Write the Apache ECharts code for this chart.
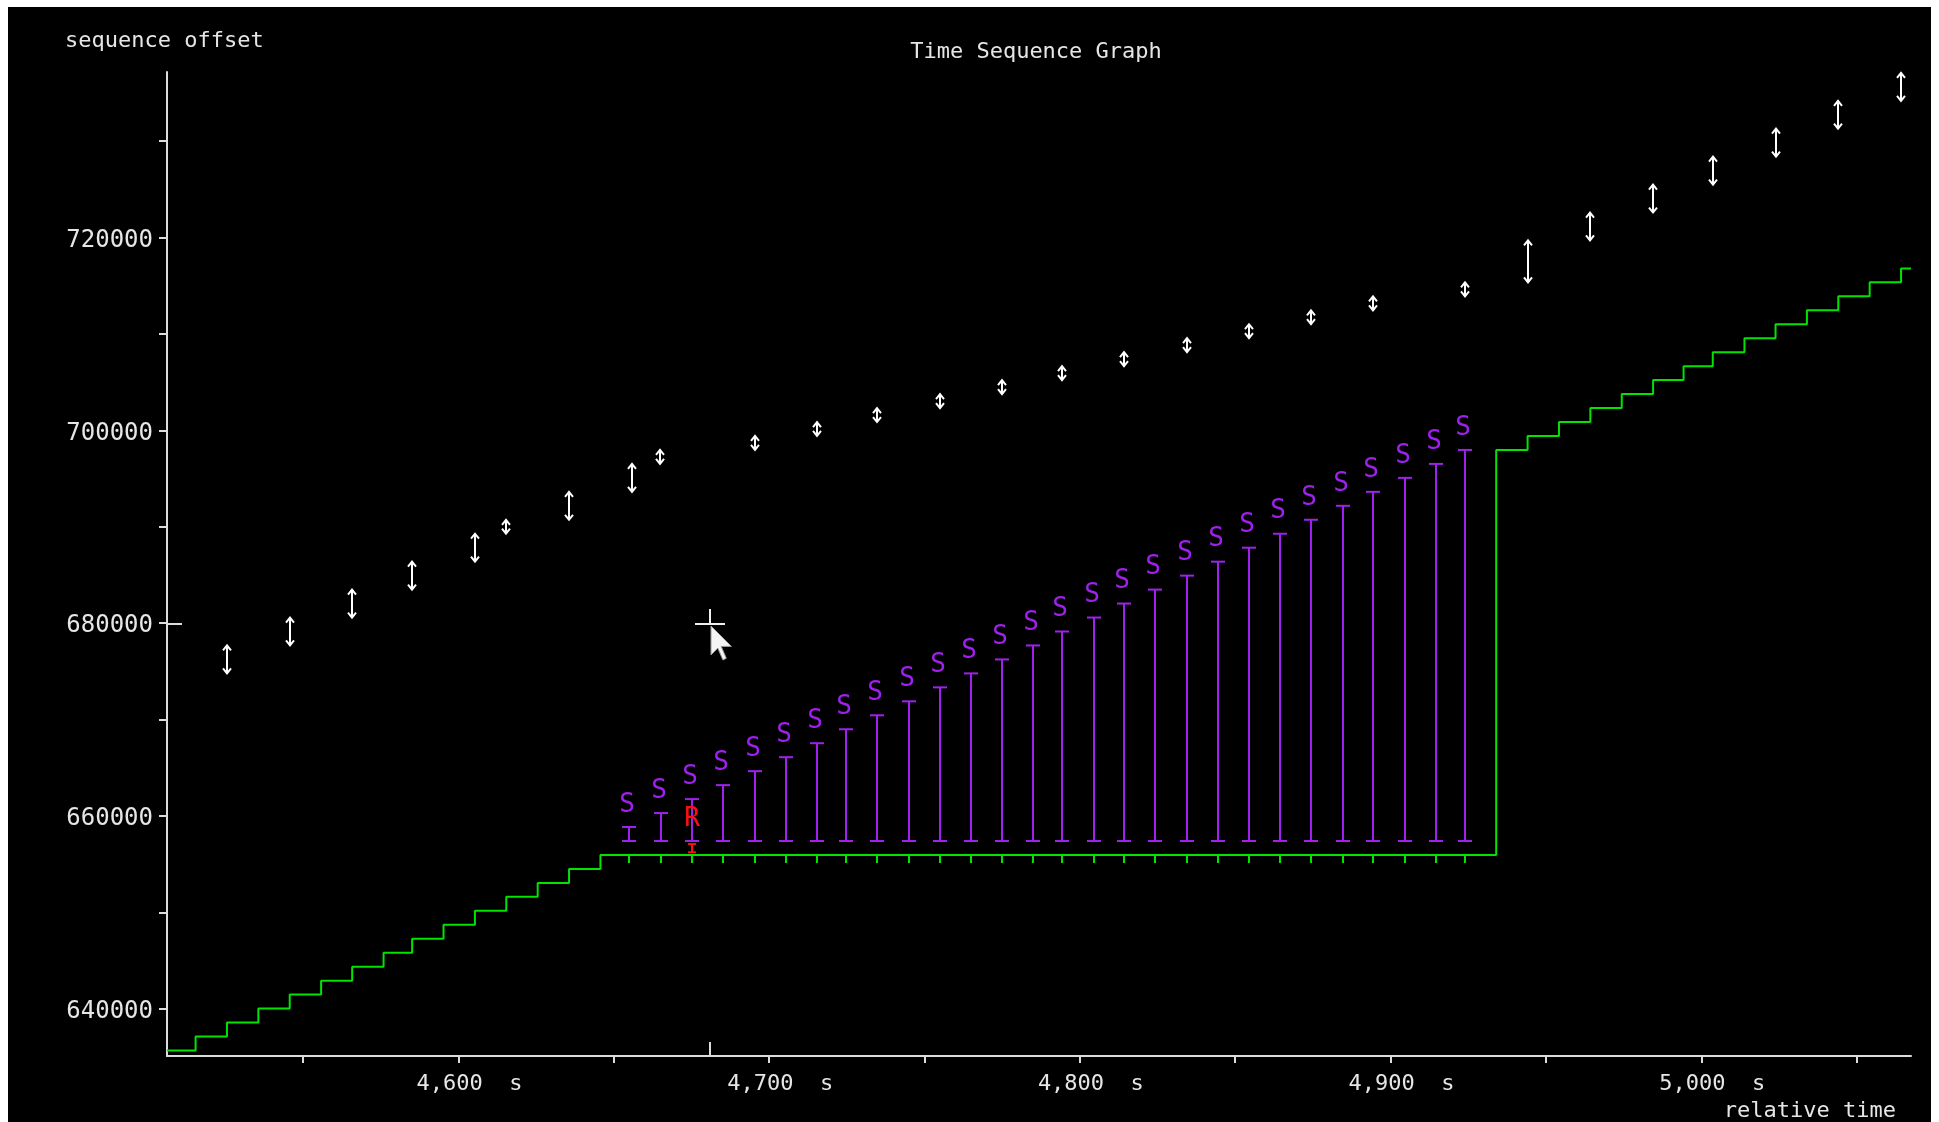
<!DOCTYPE html>
<html>
<head>
<meta charset="utf-8">
<title>Time Sequence Graph</title>
<script src="https://cdn.jsdelivr.net/npm/echarts@6/dist/echarts.min.js"></script>
<style>
  html, body { margin: 0; padding: 0; background: #ffffff; width: 1939px; height: 1122px; overflow: hidden; }
  #chart { position: absolute; left: 8px; top: 7px; width: 1923px; height: 1115px; }
</style>
</head>
<body>
<div id="chart"></div>
<script>
// ---- axis ticks and labels ----
const xTickValues = [4.55, 4.60, 4.65, 4.70, 4.75, 4.80, 4.85, 4.90, 4.95, 5.00, 5.05];
const xLabelValues = [4.6, 4.7, 4.8, 4.9, 5.0];
const yTickValues = [640000, 650000, 660000, 670000, 680000, 690000, 700000, 710000, 720000, 730000];
const yLabelValues = [640000, 660000, 680000, 700000, 720000];

// ---- cumulative ACK (green step line) ----
const ackTimes = [4.5062, 4.5154, 4.5255, 4.5356, 4.5457, 4.5558, 4.5658, 4.5759, 4.5851, 4.5952,
                  4.6053, 4.6154, 4.6255, 4.6356, 4.6457, 4.9340, 4.9441, 4.9542, 4.9643, 4.9744,
                  4.9845, 4.9943, 5.0037, 5.0139, 5.0239, 5.0340, 5.0441, 5.0542, 5.0643, 5.0675];
const ackSeq = [635700, 637148, 638596, 640044, 641492, 642940, 644388, 645836, 647284, 648732,
                650180, 651628, 653076, 654524, 655972, 697964, 699412, 700860, 702308, 703756,
                705204, 706652, 708100, 709548, 710996, 712444, 713892, 715340, 716788, 716788];

// ---- duplicate ACKs carrying SACK blocks ----
const sackTimes = [4.6550, 4.6651, 4.6752, 4.6852, 4.6953, 4.7054, 4.7155, 4.7247, 4.7348, 4.7449,
                   4.7550, 4.7651, 4.7749, 4.7849, 4.7944, 4.8044, 4.8143, 4.8243, 4.8346, 4.8446,
                   4.8545, 4.8645, 4.8744, 4.8846, 4.8945, 4.9046, 4.9146, 4.9241];
const dupAckSeq = 655972;
const sackLeftEdge = 657420;
const sackRightEdge = [658868, 660316, 661764, 663212, 664660, 666108, 667556, 669004, 670452, 671900,
                       673348, 674796, 676244, 677692, 679140, 680588, 682036, 683484, 684932, 686380,
                       687828, 689276, 690724, 692172, 693620, 695068, 696516, 697964];

// ---- data segments sent (white double arrows) ----
const segTimes = [4.5254, 4.5457, 4.5658, 4.5851, 4.6054, 4.6154, 4.6357, 4.6558, 4.6650, 4.6953,
                  4.7155, 4.7348, 4.7550, 4.7749, 4.7944, 4.8143, 4.8346, 4.8545, 4.8744, 4.8945,
                  4.9241, 4.9441, 4.9643, 4.9844, 5.0039, 5.0239, 5.0441, 5.0643];
const segStart = [674796, 677692, 680588, 683484, 686380, 689276, 690724, 693620, 696516, 697964,
                  699412, 700860, 702308, 703756, 705204, 706652, 708100, 709548, 710996, 712444,
                  713892, 715340, 719684, 722580, 725476, 728372, 731268, 734164];
const segEnd = [677692, 680588, 683484, 686380, 689276, 690724, 693620, 696516, 697964, 699412,
                700860, 702308, 703756, 705204, 706652, 708100, 709548, 710996, 712444, 713892,
                715340, 719684, 722580, 725476, 728372, 731268, 734164, 737060];

// ---- retransmitted segment ----
const retransTimes = [4.6752];
const retransStart = [656250];
const retransEnd = [657100];

// ---- pointer position ----
const cursorTime = 4.6810;
const cursorSeq = 679900;

const FONT = '"DejaVu Sans Mono", "Liberation Mono", monospace';
const AXIS_COLOR = '#dcdcdc';
const TEXT_COLOR = '#e6e6e6';
const GREEN = '#00e400';
const PURPLE = '#a020f0';
const RED = '#ff1010';

function fmtTime(v) {
  return v.toFixed(3).replace('.', ',') + '  s';
}

// double-headed arrow for one transmitted segment
function segmentRenderer(color, head, w) {
  return function (params, api) {
    const t = api.value(0);
    const lo = api.coord([t, api.value(1)]);
    const hi = api.coord([t, api.value(2)]);
    const x = Math.round(lo[0]);
    const s = { stroke: color, lineWidth: w, fill: null };
    return {
      type: 'group',
      children: [
        { type: 'line', shape: { x1: x, y1: lo[1], x2: x, y2: hi[1] }, style: s },
        { type: 'polyline', shape: { points: [[x - head, hi[1] + head + 1], [x, hi[1]], [x + head, hi[1] + head + 1]] }, style: s },
        { type: 'polyline', shape: { points: [[x - head, lo[1] - head - 1], [x, lo[1]], [x + head, lo[1] - head - 1]] }, style: s }
      ]
    };
  };
}

// SACK block: I-bar with an "S" above
function sackRenderer(params, api) {
  const t = api.value(0);
  const lo = api.coord([t, api.value(1)]);
  const hi = api.coord([t, api.value(2)]);
  const x = Math.round(lo[0]);
  const s = { stroke: PURPLE, lineWidth: 2, fill: null };
  return {
    type: 'group',
    children: [
      { type: 'line', shape: { x1: x, y1: lo[1], x2: x, y2: hi[1] }, style: s },
      { type: 'line', shape: { x1: x - 7, y1: lo[1], x2: x + 7, y2: lo[1] }, style: s },
      { type: 'line', shape: { x1: x - 7, y1: hi[1], x2: x + 7, y2: hi[1] }, style: s },
      { type: 'text', style: { text: 'S', x: x - 2, y: hi[1] - 22, align: 'center', verticalAlign: 'middle',
                               fill: PURPLE, font: '26px ' + FONT } }
    ]
  };
}

// small ticks hanging below the ACK line for each duplicate ACK
function dupAckRenderer(params, api) {
  const p = api.coord([api.value(0), api.value(1)]);
  const x = Math.round(p[0]);
  return { type: 'line', shape: { x1: x, y1: p[1], x2: x, y2: p[1] + 8 },
           style: { stroke: GREEN, lineWidth: 2 } };
}

// retransmission marker (small I-bar) with its "R"
function retransRenderer(params, api) {
  const t = api.value(0);
  const lo = api.coord([t, api.value(1)]);
  const hi = api.coord([t, api.value(2)]);
  const x = Math.round(lo[0]);
  const s = { stroke: RED, lineWidth: 2, fill: null };
  return {
    type: 'group',
    children: [
      { type: 'line', shape: { x1: x, y1: lo[1], x2: x, y2: hi[1] }, style: s },
      { type: 'line', shape: { x1: x - 4, y1: lo[1], x2: x + 4, y2: lo[1] }, style: s },
      { type: 'line', shape: { x1: x - 4, y1: hi[1], x2: x + 4, y2: hi[1] }, style: s },
      { type: 'text', style: { text: 'R', x: x, y: hi[1] - 25, align: 'center', verticalAlign: 'middle',
                               fill: RED, font: '26px ' + FONT } }
    ]
  };
}

// mouse pointer with crosshair and its marks on both axes
function cursorRenderer(params, api) {
  const p = api.coord([api.value(0), api.value(1)]);
  const cs = params.coordSys;
  const x = Math.round(p[0]), y = Math.round(p[1]);
  const s = { stroke: '#f0f0f0', lineWidth: 2, fill: null };
  const k = 1.7;
  const arrow = [[0, 0], [0, 17], [4, 13], [7, 20], [9, 19], [6, 12], [12, 12]]
    .map(q => [x + 1 + q[0] * k, y + 2 + q[1] * k]);
  return {
    type: 'group',
    children: [
      { type: 'line', shape: { x1: x - 15, y1: y, x2: x + 15, y2: y }, style: s },
      { type: 'line', shape: { x1: x, y1: y - 15, x2: x, y2: y }, style: s },
      { type: 'polygon', shape: { points: arrow }, style: { fill: '#f4f4f4', stroke: '#9a9a9a', lineWidth: 1 } },
      { type: 'line', shape: { x1: cs.x, y1: y, x2: cs.x + 15, y2: y }, style: { stroke: AXIS_COLOR, lineWidth: 2 } },
      { type: 'line', shape: { x1: x, y1: cs.y + cs.height, x2: x, y2: cs.y + cs.height - 14 },
        style: { stroke: AXIS_COLOR, lineWidth: 2 } }
    ]
  };
}

const chart = echarts.init(document.getElementById('chart'), null, { renderer: 'canvas' });

chart.setOption({
  animation: false,
  backgroundColor: '#000000',
  grid: { left: 159, top: 65, width: 1744, height: 984, containLabel: false },
  xAxis: {
    type: 'value',
    min: 4.5062,
    max: 5.0675,
    axisLine: { show: true, onZero: false, lineStyle: { color: AXIS_COLOR, width: 2 } },
    axisTick: { show: true, length: 7, lineStyle: { color: AXIS_COLOR, width: 2 }, customValues: xTickValues },
    axisLabel: {
      show: true, customValues: xLabelValues, formatter: fmtTime,
      color: TEXT_COLOR, fontFamily: FONT, fontSize: 22, margin: 17, padding: [0, 0, 0, 22]
    },
    splitLine: { show: false }
  },
  yAxis: {
    type: 'value',
    min: 635127,
    max: 737149,
    axisLine: { show: true, onZero: false, lineStyle: { color: AXIS_COLOR, width: 2 } },
    axisTick: { show: true, length: 8, lineStyle: { color: AXIS_COLOR, width: 2 }, customValues: yTickValues },
    axisLabel: {
      show: true, customValues: yLabelValues, formatter: v => '{v|' + v + '}',
      color: TEXT_COLOR, fontFamily: FONT, fontSize: 24, margin: 14,
      rich: { v: { color: TEXT_COLOR, fontFamily: FONT, fontSize: 24, padding: [6, 0, 0, 0] } }
    },
    splitLine: { show: false }
  },
  graphic: [
    { type: 'text', x: 57, y: 34, style: { text: 'sequence offset', font: '22px ' + FONT, fill: TEXT_COLOR,
      align: 'left', verticalAlign: 'middle' } },
    { type: 'text', x: 1028, y: 45, style: { text: 'Time Sequence Graph', font: '22px ' + FONT, fill: TEXT_COLOR,
      align: 'center', verticalAlign: 'middle' } },
    { type: 'text', x: 1888, y: 1104, style: { text: 'relative time', font: '22px ' + FONT, fill: TEXT_COLOR,
      align: 'right', verticalAlign: 'middle' } }
  ],
  series: [
    {
      name: 'ack', type: 'line', step: 'end', symbol: 'none', silent: true,
      lineStyle: { color: GREEN, width: 2 },
      data: ackTimes.map((t, i) => [t, ackSeq[i]]),
      z: 3
    },
    {
      name: 'dupack', type: 'custom', renderItem: dupAckRenderer, silent: true,
      data: sackTimes.map(t => [t, dupAckSeq]), z: 3
    },
    {
      name: 'sack', type: 'custom', renderItem: sackRenderer, silent: true,
      data: sackTimes.map((t, i) => [t, sackLeftEdge, sackRightEdge[i]]), z: 4
    },
    {
      name: 'segments', type: 'custom', renderItem: segmentRenderer('#ffffff', 4, 2), silent: true,
      data: segTimes.map((t, i) => [t, segStart[i], segEnd[i]]), z: 5
    },
    {
      name: 'retransmit', type: 'custom', renderItem: retransRenderer, silent: true,
      data: retransTimes.map((t, i) => [t, retransStart[i], retransEnd[i]]), z: 6
    },
    {
      name: 'pointer', type: 'custom', renderItem: cursorRenderer, silent: true,
      data: [[cursorTime, cursorSeq]], z: 10
    }
  ]
});
</script>
</body>
</html>
